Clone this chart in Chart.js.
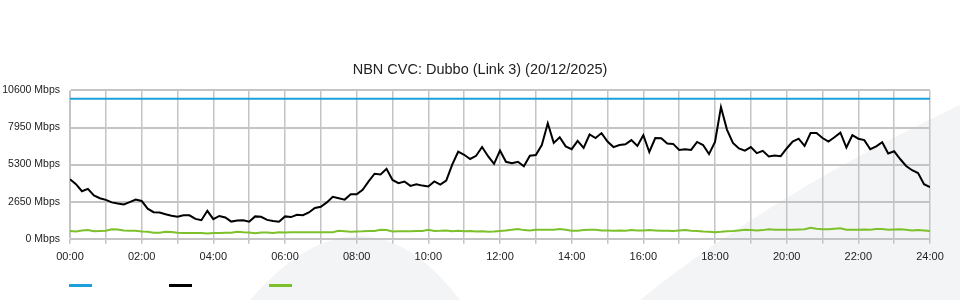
<!DOCTYPE html>
<html>
<head>
<meta charset="utf-8">
<title>NBN CVC: Dubbo (Link 3)</title>
<script src="https://cdn.jsdelivr.net/npm/chart.js@4.4.1/dist/chart.umd.min.js"></script>
<style>
  html, body { margin: 0; padding: 0; background: #fff; }
  .chart-wrap { position: relative; width: 960px; height: 300px; }
</style>
</head>
<body>
<div class="chart-wrap">
  <canvas id="cvcChart"></canvas>
</div>
<script>
// Time of day in minutes, one sample every 10 minutes (00:00 .. 24:00)
const times = []
for (let m = 0; m <= 1440; m += 10) times.push(m)

// Link capacity (flat line)
const capacityTimes = [0, 1440]
const capacityMbps = [10000, 10000]

// Traffic, Mbps - 6 values per hour, last value is 24:00
const trafficMbps = [
  4250, 3900, 3400, 3570, 3100, 2900,   // 00
  2780, 2600, 2520, 2450, 2620, 2800,   // 01
  2700, 2150, 1900, 1880, 1750, 1650,   // 02
  1570, 1680, 1680, 1420, 1330, 2000,   // 03
  1400, 1630, 1520, 1230, 1300, 1330,   // 04
  1220, 1600, 1570, 1350, 1270, 1220,   // 05
  1600, 1550, 1720, 1680, 1880, 2200,   // 06
  2290, 2600, 3000, 2900, 2800, 3180,   // 07
  3180, 3500, 4100, 4650, 4600, 5000,   // 08
  4200, 3970, 4090, 3780, 3900, 3800,   // 09
  3740, 4100, 3870, 4150, 5300, 6220,   // 10
  6000, 5700, 5930, 6560, 5900, 5350,   // 11
  6300, 5500, 5390, 5500, 5180, 5930,   // 12
  5980, 6700, 8250, 6850, 7250, 6600,   // 13
  6400, 7000, 6500, 7450, 7200, 7550,   // 14
  6950, 6550, 6700, 6750, 7050, 6630,   // 15
  7400, 6200, 7200, 7180, 6800, 6780,   // 16
  6350, 6400, 6350, 6920, 6700, 6050,   // 17
  6920, 9400, 7800, 6850, 6450, 6300,   // 18
  6550, 6120, 6280, 5880, 5950, 5900,   // 19
  6450, 6950, 7150, 6630, 7550, 7550,   // 20
  7200, 6950, 7250, 7580, 6520, 7400,   // 21
  7150, 7050, 6400, 6600, 6900, 6100,   // 22
  6250, 5700, 5200, 4900, 4700, 3900,   // 23
  3690
]

// Second (green) series, Mbps
const otherMbps = [
  560, 520, 600, 620, 540, 560,
  580, 680, 670, 600, 580, 580,
  520, 500, 430, 440, 500, 480,
  430, 420, 420, 420, 420, 380,
  420, 420, 440, 440, 500, 470,
  450, 390, 450, 450, 420, 460,
  450, 460, 460, 460, 460, 460,
  460, 470, 470, 580, 540, 500,
  530, 540, 560, 560, 640, 630,
  520, 540, 540, 540, 550, 560,
  640, 560, 570, 600, 540, 570,
  540, 560, 520, 540, 500, 520,
  560, 600, 640, 700, 620, 590,
  650, 650, 650, 650, 700, 640,
  580, 580, 620, 650, 650, 600,
  600, 580, 600, 580, 620, 600,
  590, 620, 600, 580, 580, 560,
  600, 620, 580, 560, 520, 500,
  470, 500, 540, 560, 600, 640,
  620, 600, 620, 690, 650, 650,
  640, 640, 660, 680, 780, 720,
  680, 680, 720, 760, 650, 650,
  650, 660, 650, 700, 700, 640,
  670, 680, 650, 600, 620, 600,
  560
]

const yTicks = [0, 2650, 5300, 7950, 10600]

const COLORS = {
  capacity: "#1ba0dc",
  traffic: "#000000",
  other: "#7cc12b",
  grid: "#c4c4c4",
  swoosh: "#f3f4f6",
}

function fmtTime(minutes) {
  const h = Math.floor(minutes / 60)
  return (h < 10 ? "0" : "") + h + ":00"
}

// Light background swoosh behind the plot
const swooshPlugin = {
  id: "swoosh",
  beforeDraw(chart) {
    const ctx = chart.ctx
    const w = chart.width
    const h = chart.height
    ctx.save()
    ctx.fillStyle = COLORS.swoosh
    ctx.beginPath()
    ctx.moveTo(250, h)
    ctx.quadraticCurveTo(362, 172, 460, h)
    ctx.closePath()
    ctx.fill()
    ctx.beginPath()
    ctx.moveTo(640, h)
    ctx.quadraticCurveTo(770, 195, w, 105)
    ctx.lineTo(w, h)
    ctx.closePath()
    ctx.fill()
    ctx.restore()
  },
}

// Legend: just coloured swatches, no text
const swatchLegend = {
  id: "swatchLegend",
  afterDraw(chart) {
    const ctx = chart.ctx
    ctx.save()
    chart.data.datasets.forEach((ds, i) => {
      ctx.fillStyle = ds.borderColor
      ctx.fillRect(69 + i * 100, 284, 23, 3)
    })
    ctx.restore()
  },
}

Chart.defaults.font.family = "'Liberation Sans', Arial, sans-serif"
Chart.defaults.color = "#222"

const ctx = document.getElementById("cvcChart").getContext("2d")
new Chart(ctx, {
  type: "line",
  data: {
    labels: times,
    datasets: [
      {
        label: "",
        data: capacityTimes.map((t, i) => ({ x: t, y: capacityMbps[i] })),
        borderColor: COLORS.capacity,
        borderWidth: 2,
        pointRadius: 0,
        tension: 0,
      },
      {
        label: "",
        data: trafficMbps,
        borderColor: COLORS.traffic,
        borderWidth: 2,
        pointRadius: 0,
        tension: 0,
      },
      {
        label: "",
        data: otherMbps,
        borderColor: COLORS.other,
        borderWidth: 2,
        pointRadius: 0,
        tension: 0,
      },
    ],
  },
  options: {
    responsive: true,
    maintainAspectRatio: false,
    animation: false,
    layout: {
      padding: { left: 0, right: 0, top: 0, bottom: 29 },
    },
    plugins: {
      legend: { display: false },
      tooltip: { enabled: false },
      title: {
        display: true,
        text: "NBN CVC: Dubbo (Link 3) (20/12/2025)",
        font: { size: 14.5, weight: "normal" },
        color: "#222",
        padding: { top: 61, bottom: 12 },
      },
    },
    scales: {
      x: {
        type: "linear",
        min: 0,
        max: 1440,
        ticks: {
          stepSize: 60,
          autoSkip: false,
          maxRotation: 0,
          padding: 7,
          font: { size: 11 },
          color: "#222",
          callback: (v) => (v % 120 === 0 ? fmtTime(v) : ""),
        },
        grid: {
          color: COLORS.grid,
          lineWidth: 1.5,
          tickLength: 5,
        },
        border: { color: COLORS.grid },
      },
      y: {
        min: 0,
        max: 10600,
        afterBuildTicks: (scale) => {
          scale.ticks = yTicks.map((v) => ({ value: v }))
        },
        afterFit: (scale) => {
          scale.width = 70
        },
        ticks: {
          padding: 10,
          font: { size: 10.5 },
          color: "#222",
          callback: (v) => v + " Mbps",
        },
        grid: {
          color: COLORS.grid,
          lineWidth: 2,
          drawTicks: false,
        },
        border: { color: COLORS.grid },
      },
      // empty right-hand axis, only to keep 30px free on the right
      yRight: {
        position: "right",
        min: 0,
        max: 10600,
        ticks: { display: false },
        grid: { display: false, drawTicks: false },
        border: { display: false },
        afterFit: (scale) => {
          scale.width = 30
        },
      },
    },
  },
  plugins: [swooshPlugin, swatchLegend],
})
</script>
</body>
</html>
